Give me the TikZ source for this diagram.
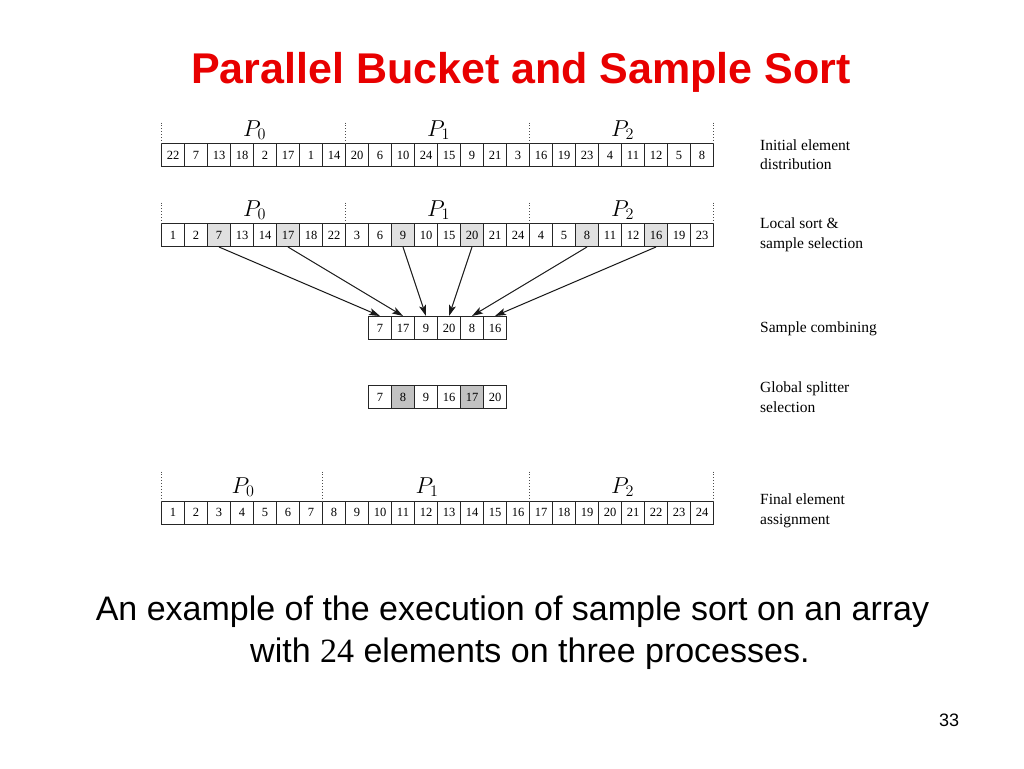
\documentclass[tikz,border=0pt]{standalone}
\usepackage{fix-cm}
\usepackage{fontspec}
\setmainfont{Liberation Serif}
\newfontfamily\arialf{Liberation Sans}
\usetikzlibrary{arrows.meta}
\definecolor{titlered}{RGB}{232,0,0}
\tikzset{
  cell/.style={draw=black!85, line width=1pt, minimum width=23pt, minimum height=23pt,
    inner sep=0pt, font=\fontsize{12.5}{12.5}\selectfont},
  nn/.style={},
  hl/.style={fill=black!12},
  hd/.style={fill=black!24},
  sepline/.style={draw=black!70, dotted, line width=0.9pt},
  plabel/.style={font=\fontsize{23}{23}\selectfont, anchor=base, inner sep=0pt},
  side/.style={font=\fontsize{15.5}{19.5}\selectfont, align=left, anchor=west, inner sep=0pt},
  arr/.style={-{Stealth[length=11pt,width=7pt,inset=2.5pt]}, line width=1pt, draw=black!90},
}
\begin{document}
\begin{tikzpicture}[x=1pt,y=-1pt]
\useasboundingbox[fill=white] (0,0) rectangle (1024,768);

% title
\node[anchor=base, inner sep=0pt, font=\arialf\bfseries\fontsize{43}{43}\selectfont, text=titlered]
  (title) at (521,83) {Parallel Bucket and Sample Sort};

% row 1: initial distribution
\foreach \v [count=\i from 0] in {22,7,13,18,2,17,1,14,20,6,10,24,15,9,21,3,16,19,23,4,11,12,5,8}
  \node[cell] (a\i) at ({173+23*\i},155) {\v};
\foreach \x in {161.5,345.5,529.5,713.5}
  \draw[sepline] (\x,122.5) -- (\x,143.5);
\node[plabel] (pa0) at (254.5,136) {$P_0$};
\node[plabel] (pa1) at (438.5,136) {$P_1$};
\node[plabel] (pa2) at (622.5,136) {$P_2$};

% row 2: local sort and sample selection
\foreach \v/\s [count=\i from 0] in {1/nn,2/nn,7/hl,13/nn,14/nn,17/hl,18/nn,22/nn,3/nn,6/nn,9/hl,10/nn,15/nn,20/hl,21/nn,24/nn,4/nn,5/nn,8/hl,11/nn,12/nn,16/hl,19/nn,23/nn}
  \node[cell,\s] (b\i) at ({173+23*\i},235) {\v};
\foreach \x in {161.5,345.5,529.5,713.5}
  \draw[sepline] (\x,202.5) -- (\x,223.5);
\node[plabel] (pb0) at (254.5,216) {$P_0$};
\node[plabel] (pb1) at (438.5,216) {$P_1$};
\node[plabel] (pb2) at (622.5,216) {$P_2$};

% row 3: sample combining
\foreach \v [count=\i from 0] in {7,17,9,20,8,16}
  \node[cell] (c\i) at ({380+23*\i},328) {\v};

% row 4: global splitter selection
\foreach \v/\s [count=\i from 0] in {7/nn,8/hd,9/nn,16/nn,17/hd,20/nn}
  \node[cell,\s] (d\i) at ({380+23*\i},397) {\v};

% row 5: final assignment
\foreach \v [count=\i from 0] in {1,...,24}
  \node[cell] (e\i) at ({173+23*\i},512.5) {\v};
\foreach \x in {161.5,322.5,529.5,713.5}
  \draw[sepline] (\x,471.5) -- (\x,501);
\node[plabel] (pe0) at (243,493) {$P_0$};
\node[plabel] (pe1) at (427,493) {$P_1$};
\node[plabel] (pe2) at (622.5,493) {$P_2$};

% arrows
\draw[arr] (b2.south)  -- (c0.north);
\draw[arr] (b5.south)  -- (c1.north);
\draw[arr] (b10.south) -- (c2.north);
\draw[arr] (b13.south) -- (c3.north);
\draw[arr] (b18.south) -- (c4.north);
\draw[arr] (b21.south) -- (c5.north);

% side labels
\node[side] (l1) at (760,154.5) {Initial element\\distribution};
\node[side] (l2) at (760,235) {Local sort \&\\sample selection};
\node[side] (l3) at (760,329) {Sample combining};
\node[side] (l4) at (760,397) {Global splitter\\selection};
\node[side] (l5) at (760,511) {Final element\\assignment};

% caption
\node[anchor=base, inner sep=0pt, font=\arialf\fontsize{34}{34}\selectfont]
  (cap1) at (512.5,620) {An example of the execution of sample sort on an array};
\node[anchor=base west, inner sep=0pt, font=\arialf\fontsize{34}{34}\selectfont]
  (cap2) at (250,662) {with {\rmfamily 24} elements on three processes.};

% page number
\node[anchor=base, inner sep=0pt, font=\arialf\fontsize{18}{18}\selectfont]
  (pnum) at (949,726) {33};
\end{tikzpicture}
\end{document}
